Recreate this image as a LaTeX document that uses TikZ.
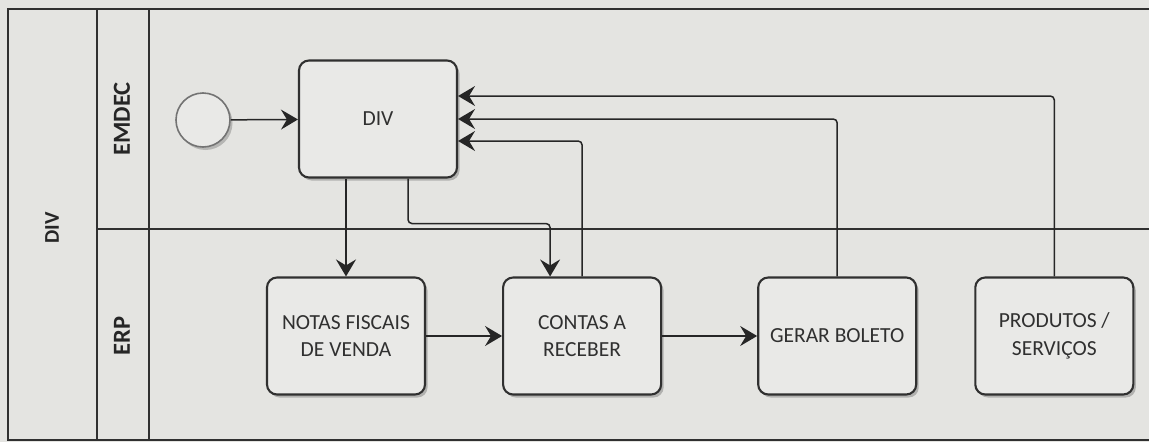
\documentclass[tikz,border=0pt]{standalone}
\usepackage{fontspec}
\setmainfont{Carlito}
\usepackage{tikz}
\usetikzlibrary{arrows, arrows.meta, positioning, shadows}
\definecolor{paper}{RGB}{228,228,225}
\definecolor{boxfill}{RGB}{233,233,231}
\definecolor{ink}{RGB}{48,48,48}
\tikzset{%
	task/.style={draw=ink, line width=2.1pt, rectangle, rounded corners=10pt, fill=boxfill,%
		minimum width=158pt, minimum height=117pt, align=center, text=ink,%
		font=\fontsize{21.5}{27.5}\selectfont,%
		drop shadow={shadow xshift=2.5pt, shadow yshift=-3pt, opacity=0.22, fill=black}},
	evt/.style={draw=black!55, line width=1.6pt, circle, minimum size=54pt, inner sep=0pt,%
		fill=boxfill, drop shadow={shadow xshift=2.5pt, shadow yshift=-3pt, opacity=0.2, fill=black}},
	flow/.style={-{Stealth[length=17pt, width=20pt, inset=6pt]}, line width=1.5pt, black!85},
	loop/.style={flow, rounded corners=4pt},
	lane/.style={line width=1.4pt, ink},
	lanelbl/.style={rotate=90, font=\bfseries\fontsize{24.5}{24.5}\selectfont, text=black!85},
	poollbl/.style={rotate=90, font=\bfseries\fontsize{21}{21}\selectfont, text=black!85}
}
\begin{document}
\begin{tikzpicture}[x=1pt, y=-1pt]
	\fill[paper] (0,0) rectangle (1149,442);
	\useasboundingbox (0,0) rectangle (1149,442);

	\draw[lane] (1149,9) -- (8,9) -- (8,440) -- (1149,440);
	\draw[lane] (97,9) -- (97,440);
	\draw[lane] (149,9) -- (149,440);
	\draw[lane] (97,229) -- (1149,229);

	\node[poollbl] (pool) at (52,228) {DIV};
	\node[lanelbl] (emdec) at (122,119) {EMDEC};
	\node[lanelbl] (erp) at (122,336) {ERP};

	\node[evt] (start) at (203,120) {};
	\node[task] (div) at (378,119) {DIV};
	\node[task] (notas) at (346,336) {NOTAS FISCAIS\\DE VENDA};
	\node[task, right=76pt of notas] (contas) {CONTAS A\\RECEBER};
	\node[task, right=95pt of contas] (boleto) {GERAR BOLETO};
	\node[task, right=57pt of boleto] (produtos) {PRODUTOS /\\SERVIÇOS};

	\draw[flow] (start) -- (div);
	\draw[flow] (notas |- div.south) -- (notas.north);
	\draw[loop] ([xshift=30pt]div.south) -- ++(0,45) -| ([xshift=-32pt]contas.north);
	\draw[flow] (notas) -- (contas);
	\draw[flow] (contas) -- (boleto);
	\draw[loop] (contas.north) |- ([yshift=-22pt]div.east);
	\draw[loop] (boleto.north) |- (div.east);
	\draw[loop] (produtos.north) |- ([yshift=23pt]div.east);
\end{tikzpicture}
\end{document}
